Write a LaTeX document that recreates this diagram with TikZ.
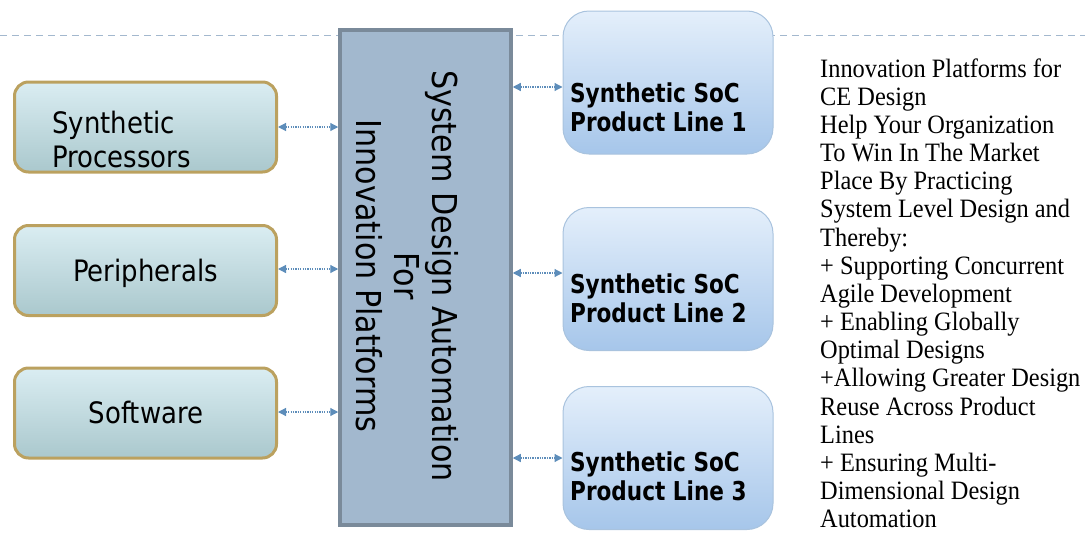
\documentclass[tikz,border=0pt]{standalone}
\usepackage{fontspec}
\usetikzlibrary{arrows.meta,calc}
\newfontfamily\tahfont[FakeStretch=0.88]{DejaVu Sans}
\newfontfamily\tahboldfont[FakeStretch=0.83]{DejaVu Sans Bold}
\newfontfamily\sidefont[FakeStretch=0.92]{Liberation Serif}
\newcommand{\topstrut}[1]{\rule{0pt}{#1}}
\definecolor{dashcol}{HTML}{A3B8CE}
\definecolor{ltop}{HTML}{DAEDF2}
\definecolor{lbot}{HTML}{AAC8CD}
\definecolor{lborder}{HTML}{BBA15F}
\definecolor{rtop}{HTML}{E4EFFB}
\definecolor{rbot}{HTML}{A6C6EA}
\definecolor{rborder}{HTML}{A9C3DE}
\definecolor{cfill}{HTML}{A2B8CE}
\definecolor{cborder}{HTML}{7A8A9A}
\definecolor{arrcol}{HTML}{5D8DBA}
\tikzset{
  leftbox/.style={draw=lborder, line width=3pt, rounded corners=14pt,
    top color=ltop, bottom color=lbot, minimum width=262pt, minimum height=90pt,
    inner sep=0pt},
  rightbox/.style={draw=rborder, line width=1pt, rounded corners=26pt,
    top color=rtop, bottom color=rbot, minimum width=210pt, minimum height=143pt,
    inner sep=0pt},
  centerbox/.style={draw=cborder, fill=cfill, line width=3.5pt,
    minimum width=171pt, minimum height=495pt, inner sep=0pt},
  lefttext/.style={inner sep=0pt, font=\tahfont\fontsize{29.5}{34}\selectfont},
  righttext/.style={inner sep=0pt, align=left, anchor=north west,
    font=\tahboldfont\fontsize{26}{29}\selectfont},
  link/.style={draw=arrcol, line width=1.2pt, dash pattern=on 1.3pt off 1.1pt,
    {Triangle[length=8pt,width=8pt]}-{Triangle[length=8pt,width=8pt]}}
}
\begin{document}
\begin{tikzpicture}[x=1pt,y=-1pt]
\useasboundingbox (0,0) rectangle (1085,546);
% dashed guide line
\coordinate (dl) at (0,35);
\coordinate (dr) at (1085,35);
\draw[dashcol, line width=1pt, dash pattern=on 7pt off 5pt] (dl) -- (dr);

% central box
\node[centerbox] (sda) at (425.5,277.5) {};
\node[rotate=-90, anchor=north, align=center, inner sep=0pt,
      font=\tahfont\fontsize{34.3}{38}\selectfont] (sdat) at (460,276)
  {\topstrut{27pt}System Design Automation\\For\\Innovation Platforms};

% left boxes
\node[leftbox] (sp) at (145.5,127) {};
\node[leftbox] (pe) at (145.5,270.5) {};
\node[leftbox] (sw) at (145.5,413) {};
\node[lefttext, align=left, anchor=north west] (spt) at (52,111)
  {\topstrut{22pt}Synthetic\\Processors};
\node[lefttext, anchor=base] (pet) at (145.5,281) {Peripherals};
\node[lefttext, anchor=base] (swt) at (146,423) {Software};

% right boxes
\node[rightbox] (p1) at (668,82.5) {};
\node[rightbox] (p2) at (668,279) {};
\node[rightbox] (p3) at (668,458) {};
\node[righttext] (p1t) at (570,80) {\topstrut{22pt}Synthetic SoC\\Product Line 1};
\node[righttext] (p2t) at (570,271) {\topstrut{22pt}Synthetic SoC\\Product Line 2};
\node[righttext] (p3t) at (570,449) {\topstrut{22pt}Synthetic SoC\\Product Line 3};

% connectors
\draw[link] (sp.east) -- (sp.east -| sda.west);
\draw[link] ($(pe.east)+(0,-1.5)$) -- ($(pe.east -| sda.west)+(0,-1.5)$);
\draw[link] ($(sw.east)+(0,-1)$) -- ($(sw.east -| sda.west)+(0,-1)$);
\draw[link] ($(p1.west -| sda.east)+(0,4.5)$) -- ($(p1.west)+(0,4.5)$);
\draw[link] ($(p2.west -| sda.east)+(0,-6)$) -- ($(p2.west)+(0,-6)$);
\draw[link] (p3.west -| sda.east) -- (p3.west);

% side text
\node[inner sep=0pt, align=left, anchor=north west,
      font=\sidefont\fontsize{26.5}{28.15}\selectfont] (side) at (820,57)
  {\topstrut{20pt}Innovation Platforms for\\
   CE Design\\
   Help Your Organization\\
   To Win In The Market\\
   Place By Practicing\\
   System Level Design and\\
   Thereby:\\
   + Supporting Concurrent\\
   Agile Development\\
   + Enabling Globally\\
   Optimal Designs\\
   +Allowing Greater Design\\
   Reuse Across Product\\
   Lines\\
   + Ensuring Multi-\\
   Dimensional Design\\
   Automation};
\end{tikzpicture}
\end{document}
